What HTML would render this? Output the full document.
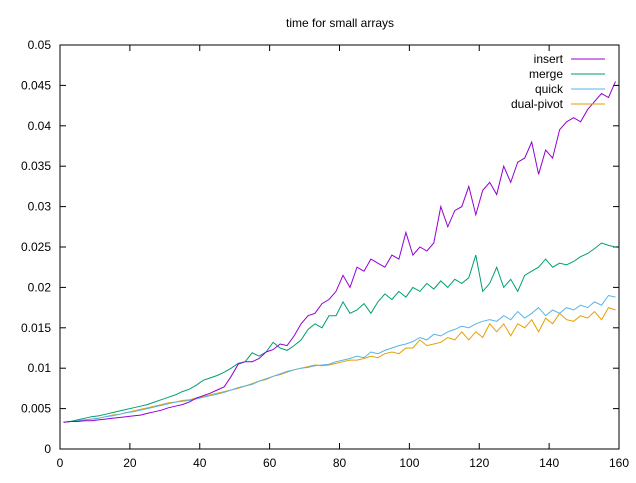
<!DOCTYPE html>
<html><head><meta charset="utf-8"><style>
body{margin:0;background:#fff}
svg text{font-family:"Liberation Sans",sans-serif;font-size:12px;fill:#000}
</style></head><body>
<svg id="chart" width="636" height="478"></svg>
<script>
const xs=[];for(let i=1;i<160;i+=2)xs.push(i);
const insertVals=[.0033,.0034,.0034,.0035,.0035,.0036,.0037,.0038,.0039,.0040,
.0041,.0042,.0044,.0046,.0048,.0051,.0053,.0055,.0058,.0063,
.0066,.0069,.0073,.0077,.0090,.0105,.0108,.0108,.0112,.0120,
.0123,.0130,.0128,.0140,.0155,.0165,.0168,.0180,.0185,.0195,
.0215,.0200,.0225,.0220,.0235,.0230,.0225,.0240,.0235,.0268,
.0240,.0250,.0245,.0255,.0300,.0275,.0295,.0300,.0325,.0290,
.0320,.0330,.0315,.0350,.0330,.0355,.0360,.0380,.0340,.0370,
.0360,.0395,.0405,.0410,.0405,.0420,.0430,.0440,.0435,.0455];
const mergeVals=[.0033,.0034,.0036,.0038,.0040,.0041,.0043,.0045,.0047,.0049,
.0051,.0053,.0055,.0058,.0061,.0064,.0067,.0071,.0074,.0079,
.0085,.0088,.0091,.0095,.0100,.0106,.0108,.0119,.0115,.0120,
.0132,.0125,.0122,.0128,.0135,.0148,.0155,.0150,.0165,.0165,
.0182,.0168,.0172,.0180,.0168,.0182,.0192,.0185,.0195,.0188,
.0200,.0195,.0205,.0198,.0208,.0200,.0210,.0205,.0212,.0240,
.0195,.0205,.0225,.0200,.0210,.0195,.0215,.0220,.0225,.0235,
.0225,.0230,.0228,.0232,.0238,.0242,.0248,.0255,.0252,.0250];
const quickVals=[.0033,.0034,.0035,.0036,.0037,.0038,.0040,.0041,.0043,.0045,.0046,.0048,.0050,.0052,.0054,.0056,.0058,.0059,.0060,.0062,.0064,.0066,.0068,.0070,.0073,.0076,.0078,.0080,.0084,.0087,.0090,.0093,.0096,.0098,.0100,.0101,.0103,.0104,.0105,.0108,.0110,.0112,.0115,.0113,.0120,.0118,.0122,.0125,.0128,.0130,.0133,.0138,.0135,.0142,.0140,.0145,.0148,.0152,.0150,.0155,.0158,.0160,.0158,.0165,.0160,.0170,.0162,.0168,.0175,.0165,.0172,.0168,.0175,.0172,.0178,.0175,.0182,.0178,.0190,.0188];
const dualVals=[.0033,.0034,.0035,.0036,.0037,.0038,.0040,.0042,.0043,.0045,.0047,.0049,.0051,.0053,.0055,.0057,.0058,.0060,.0061,.0063,.0065,.0067,.0069,.0071,.0073,.0075,.0078,.0081,.0084,.0086,.0090,.0092,.0095,.0098,.0100,.0102,.0104,.0103,.0104,.0106,.0108,.0110,.0110,.0112,.0115,.0113,.0118,.0120,.0118,.0125,.0125,.0135,.0128,.0130,.0132,.0138,.0135,.0145,.0135,.0145,.0138,.0155,.0145,.0155,.0140,.0155,.0150,.0160,.0145,.0162,.0155,.0168,.0160,.0158,.0165,.0162,.0170,.0160,.0175,.0172];
const xTicks=[0,20,40,60,80,100,120,140,160];
const yTicks=[0,0.005,0.01,0.015,0.02,0.025,0.03,0.035,0.04,0.045,0.05];
const yTickLabels=["0","0.005","0.01","0.015","0.02","0.025","0.03","0.035","0.04","0.045","0.05"];
const seriesNames=["insert","merge","quick","dual-pivot"];
const seriesColors=["#9400d3","#009e73","#56b4e9","#e69f00"];

const L=60,R=619,T=45,B=449,NS="http://www.w3.org/2000/svg";
const sx=v=>L+(v-0)/160*(R-L), sy=v=>B-v/0.05*(B-T);
const svg=document.getElementById('chart');
function mk(t,a,p){const e=document.createElementNS(NS,t);for(const k in a)e.setAttribute(k,a[k]);(p||svg).appendChild(e);return e;}
let e=mk('text',{x:340,y:27,'text-anchor':'middle'});e.textContent='time for small arrays';


xTicks.forEach(v=>{
 let t=mk('line',{x1:sx(v),x2:sx(v),y1:B,y2:B-6,stroke:'#000'});
 
 
 let t2=mk('line',{x1:sx(v),x2:sx(v),y1:T,y2:T+6,stroke:'#000'});
 
 
 let l=mk('text',{x:sx(v),y:B+18,'text-anchor':'middle'});l.textContent=v;
 
 
});
yTicks.forEach((v,i)=>{
 let t=mk('line',{x1:L,x2:L+6,y1:sy(v),y2:sy(v),stroke:'#000'});
 
 
 let t2=mk('line',{x1:R,x2:R-6,y1:sy(v),y2:sy(v),stroke:'#000'});
 
 
 let l=mk('text',{x:L-9,y:sy(v)+4,'text-anchor':'end'});l.textContent=yTickLabels[i];
 
 
});
let fr=mk('rect',{x:L,y:T,width:R-L,height:B-T,fill:'none',stroke:'#000'});


const all=[insertVals,mergeVals,quickVals,dualVals];
for(let s=3;s>=0;s--){
 const pts=xs.map((x,i)=>sx(x).toFixed(1)+','+sy(all[s][i]).toFixed(1)).join(' ');
 let p=mk('polyline',{points:pts,fill:'none',stroke:seriesColors[s],'stroke-width':1});
 
 
}
seriesNames.forEach((n,i)=>{
 const y=59+i*15;
 let t=mk('text',{x:563,y:y+4,'text-anchor':'end'});t.textContent=n;
 
 
 let l=mk('line',{x1:571,x2:605,y1:y,y2:y,stroke:seriesColors[i]});
 
 
});
</script>
</body></html>
